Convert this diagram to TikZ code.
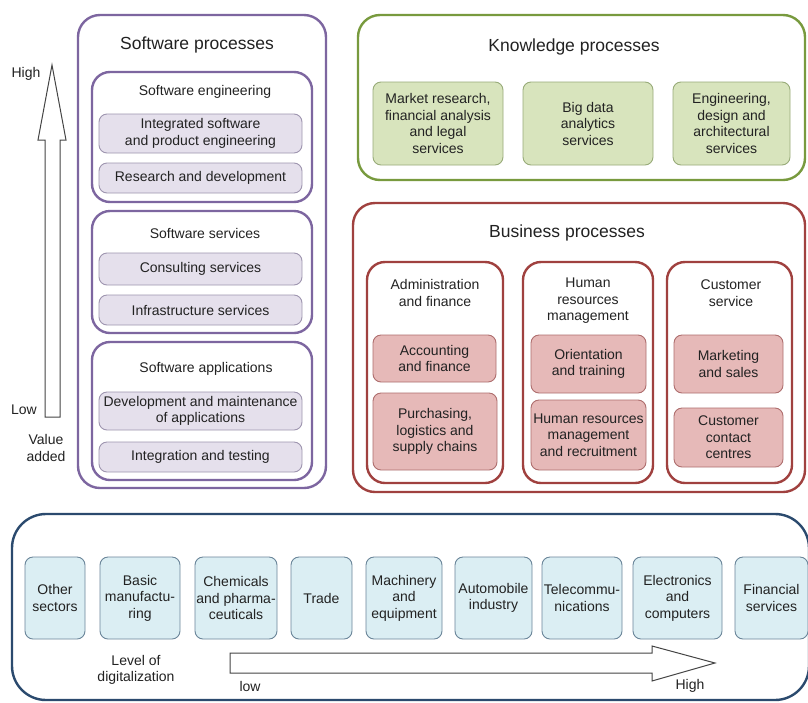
\documentclass[tikz,border=0pt]{standalone}
\usepackage{fontspec}
\setmainfont{Liberation Sans}
\definecolor{txt}{HTML}{222222}
\definecolor{swb}{HTML}{7D66A0}
\definecolor{swf}{HTML}{E5E0EC}
\definecolor{swi}{HTML}{9E95AF}
\definecolor{knb}{HTML}{789A3E}
\definecolor{knf}{HTML}{D8E4BD}
\definecolor{kni}{HTML}{98AB79}
\definecolor{bub}{HTML}{A0413F}
\definecolor{buf}{HTML}{E6B9B8}
\definecolor{bui}{HTML}{AE6E6E}
\definecolor{blb}{HTML}{2B4A6E}
\definecolor{blf}{HTML}{DBEEF3}
\definecolor{bli}{HTML}{6A8599}
\definecolor{arr}{HTML}{444444}
\tikzset{
  outerbox/.style={rectangle, draw, line width=2.4pt, rounded corners=22pt, inner sep=0pt},
  subbox/.style={rectangle, draw, line width=2.4pt, rounded corners=18pt, inner sep=0pt},
  innerbox/.style={rectangle, draw, line width=0.9pt, rounded corners=8pt, inner sep=1pt, align=center, text=txt, font=\fontsize{14}{16.5}\selectfont},
  ttl/.style={text=txt, font=\fontsize{17.5}{20}\selectfont, inner sep=0pt},
  sttl/.style={text=txt, font=\fontsize{14}{16.5}\selectfont, inner sep=0pt, align=center},
  lbl/.style={text=txt, font=\fontsize{14}{16.5}\selectfont, inner sep=0pt, align=center},
  swin/.style={innerbox, draw=swi, fill=swf, minimum width=203pt},
  knin/.style={innerbox, draw=kni, fill=knf, minimum height=83pt},
  buin/.style={innerbox, draw=bui, fill=buf},
  blin/.style={innerbox, draw=bli, fill=blf, minimum height=82pt},
  bigarrow/.style={draw=arr, fill=white, line width=1pt, line join=miter}
}
\begin{document}
\begin{tikzpicture}[x=1pt,y=-1pt]
\useasboundingbox (0,0) rectangle (808,702);
\fill[white] (0,0) rectangle (808,702);
\clip (0,0) rectangle (808,702);

% ---------- Software processes ----------
\node[outerbox, draw=swb, minimum width=248pt, minimum height=473pt] (sw) at (202,251.5) {};
\node[ttl] (swt) at (197,45) {Software processes};

\node[subbox, draw=swb, minimum width=220pt, minimum height=130pt] (se) at (202,137) {};
\node[sttl] (set) at (205,92) {Software engineering};
\node[swin, minimum height=39pt] (ise) at (200.5,133.5) {Integrated software\\and product engineering};
\node[swin, minimum height=30pt] (rd) at (200.5,178) {Research and development};

\node[subbox, draw=swb, minimum width=220pt, minimum height=122pt] (ss) at (202,272) {};
\node[sttl] (sst) at (205,233) {Software services};
\node[swin, minimum height=32pt] (cs) at (200.5,269) {Consulting services};
\node[swin, minimum height=30pt] (is) at (200.5,310) {Infrastructure services};

\node[subbox, draw=swb, minimum width=220pt, minimum height=138pt] (sa) at (202,411) {};
\node[sttl] (sat) at (206,369) {Software applications};
\node[swin, minimum height=38pt] (dm) at (200.5,411) {Development and maintenance\\of applications};
\node[swin, minimum height=30pt] (it) at (200.5,457) {Integration and testing};

% ---------- Value added arrow ----------
\draw[bigarrow] (45,417) -- (45,140) -- (38,140) -- (52,65) -- (66,140) -- (60,140) -- (60,417) -- cycle;
\node[lbl] (hi) at (26,74) {High};
\node[lbl] (lo) at (24,410) {Low};
\node[lbl] (va) at (46,448) {Value\\added};

% ---------- Knowledge processes ----------
\node[outerbox, draw=knb, minimum width=447pt, minimum height=165pt] (kn) at (581.5,97.5) {};
\node[ttl] (knt) at (574,47) {Knowledge processes};
\node[knin, minimum width=130pt] (k1) at (438,123.5) {Market research,\\financial analysis\\and legal\\services};
\node[knin, minimum width=130pt] (k2) at (588,123.5) {Big data\\analytics\\services};
\node[knin, minimum width=117pt] (k3) at (731.5,123.5) {Engineering,\\design and\\architectural\\services};

% ---------- Business processes ----------
\node[outerbox, draw=bub, minimum width=452pt, minimum height=289pt] (bu) at (579,347.5) {};
\node[ttl] (but) at (567,233) {Business processes};

\node[subbox, draw=bub, minimum width=136pt, minimum height=221pt] (ad) at (435,372.5) {};
\node[sttl] (adt) at (435,293) {Administration\\and finance};
\node[subbox, draw=bub, minimum width=130pt, minimum height=221pt] (hr) at (588,372.5) {};
\node[sttl] (hrt) at (588,301) {Human\\resources\\management};
\node[subbox, draw=bub, minimum width=125pt, minimum height=221pt] (cu) at (729.5,372.5) {};
\node[sttl] (cut) at (731,293) {Customer\\service};

\node[buin, minimum width=123pt, minimum height=47pt] (af) at (434.5,358.5) {Accounting\\and finance};
\node[buin, minimum width=124pt, minimum height=77pt] (pl) at (435,431.5) {Purchasing,\\logistics and\\supply chains};
\node[buin, minimum width=115pt, minimum height=58pt] (ot) at (588.5,364) {Orientation\\and training};
\node[buin, minimum width=115pt, minimum height=70pt] (hm) at (588.5,435) {Human resources\\management\\and recruitment};
\node[buin, minimum width=109pt, minimum height=58pt] (ms) at (728.5,364) {Marketing\\and sales};
\node[buin, minimum width=109pt, minimum height=59pt] (cc) at (728.5,437.5) {Customer\\contact\\centres};

% ---------- Sectors ----------
\node[outerbox, draw=blb, rounded corners=34pt, minimum width=797pt, minimum height=186pt] (se2) at (410.5,607) {};
\node[blin, minimum width=60pt] (s1) at (55,598) {Other\\sectors};
\node[blin, minimum width=80pt] (s2) at (140,598) {Basic\\manufactu-\\ring};
\node[blin, minimum width=82pt] (s3) at (236,598) {Chemicals\\and pharma-\\ceuticals};
\node[blin, minimum width=61pt] (s4) at (321.5,598) {Trade};
\node[blin, minimum width=76pt] (s5) at (404,598) {Machinery\\and\\equipment};
\node[blin, minimum width=77pt] (s6) at (493.5,598) {Automobile\\industry};
\node[blin, minimum width=80pt] (s7) at (582,598) {Telecommu-\\nications};
\node[blin, minimum width=89pt] (s8) at (677.5,598) {Electronics\\and\\computers};
\node[blin, minimum width=73pt] (s9) at (771.5,598) {Financial\\services};

\draw[bigarrow] (230,653) -- (652,653) -- (652,646) -- (715,663) -- (652,681) -- (652,673) -- (230,673) -- cycle;
\node[lbl] (ld) at (136,670) {Level of\\digitalization};
\node[lbl] (dlo) at (250,686) {low};
\node[lbl] (dhi) at (690,686) {High};
\end{tikzpicture}
\end{document}
